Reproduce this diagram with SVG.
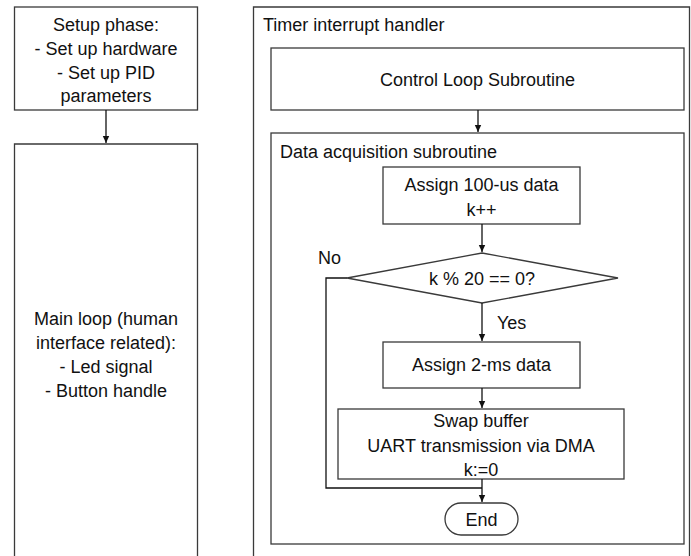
<svg xmlns="http://www.w3.org/2000/svg" width="691" height="556" viewBox="0 0 691 556">
<style>
.box{fill:#fff;stroke:#3a3a3a;stroke-width:1.3}
.t{font-family:"Liberation Sans",Arial,sans-serif;font-size:18px;fill:#111;text-anchor:middle}
.l{text-anchor:start}
.c{fill:none;stroke:#111;stroke-width:1.3}
</style>
<defs>
<marker id="ah" markerWidth="8" markerHeight="8" refX="7" refY="4" orient="auto" markerUnits="userSpaceOnUse">
<path d="M0,0.8 L7,4 L0,7.2 Z" fill="#111"/>
</marker>
</defs>
<rect width="691" height="556" fill="#fff"/>
<g id="setup">
<rect class="box" x="14.5" y="7" width="183" height="103"/>
<text class="t" x="106" y="31">Setup phase:</text>
<text class="t" x="106" y="55">- Set up hardware</text>
<text class="t" x="106" y="79">- Set up PID</text>
<text class="t" x="106" y="102">parameters</text>
</g>
<g id="mainloop">
<path class="box" d="M14.5,558 V144 H197.5 V558"/>
<text class="t" x="106" y="325">Main loop (human</text>
<text class="t" x="106" y="349">interface related):</text>
<text class="t" x="106" y="373">- Led signal</text>
<text class="t" x="106" y="397">- Button handle</text>
</g>
<g id="timer">
<path class="box" d="M253.5,558 V7 H689.5 V558"/>
<text class="t l" x="263" y="31">Timer interrupt handler</text>
</g>
<g id="control">
<rect class="box" x="271" y="48" width="413" height="62"/>
<text class="t" x="477.5" y="86">Control Loop Subroutine</text>
</g>
<g id="dataacq">
<rect class="box" x="271" y="133" width="413" height="411"/>
<text class="t l" x="280" y="158">Data acquisition subroutine</text>
</g>
<g id="assign100">
<rect class="box" x="383" y="167" width="197" height="57"/>
<text class="t" x="481.5" y="191">Assign 100-us data</text>
<text class="t" x="481.5" y="216">k++</text>
</g>
<g id="decision">
<polygon class="box" points="482,253 618,278 482,303 347,278"/>
<text class="t" x="482" y="285">k % 20 == 0?</text>
</g>
<g id="assign2">
<rect class="box" x="383" y="342" width="197" height="46"/>
<text class="t" x="481.5" y="371">Assign 2-ms data</text>
</g>
<g id="swap">
<rect class="box" x="338" y="409" width="286" height="70"/>
<text class="t" x="481" y="427">Swap buffer</text>
<text class="t" x="481" y="452">UART transmission via DMA</text>
<text class="t" x="481" y="476">k:=0</text>
</g>
<g id="end">
<rect class="box" x="445" y="503" width="73" height="32" rx="16" ry="16"/>
<text class="t" x="481.5" y="526">End</text>
</g>
<g id="connectors">
<line class="c" x1="106" y1="110" x2="106" y2="143" marker-end="url(#ah)"/>
<line class="c" x1="478" y1="110" x2="478" y2="132" marker-end="url(#ah)"/>
<line class="c" x1="482" y1="224" x2="482" y2="252" marker-end="url(#ah)"/>
<line class="c" x1="482" y1="303" x2="482" y2="341" marker-end="url(#ah)"/>
<line class="c" x1="482" y1="388" x2="482" y2="408" marker-end="url(#ah)"/>
<line class="c" x1="482" y1="479" x2="482" y2="502" marker-end="url(#ah)"/>
<polyline class="c" points="347,278 326,278 326,488 482,488"/>
<text class="t l" x="318" y="264">No</text>
<text class="t l" x="497" y="329">Yes</text>
</g>
</svg>
